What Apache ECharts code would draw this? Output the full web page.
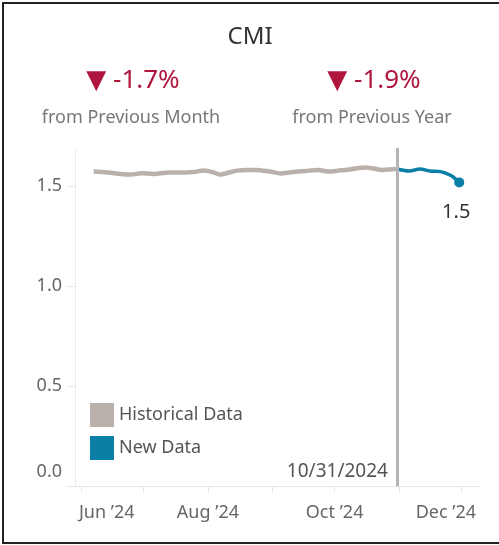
<!DOCTYPE html>
<html>
<head>
<meta charset="utf-8">
<title>CMI</title>
<script src="https://cdn.jsdelivr.net/npm/echarts@6/dist/echarts.min.js"></script>
<style>
  html, body { margin: 0; padding: 0; background: #fff; }
  #frame {
    position: absolute; left: 2px; top: 2px; width: 520px; height: 542px;
    box-sizing: border-box; border: 2px solid #222;
  }
  #chart { position: absolute; left: 0; top: 0; width: 499px; height: 545px; }
</style>
</head>
<body>
<div id="frame"></div>
<div id="chart"></div>
<script>
// historical CMI (gray line)
const histDates = ['2024-06-07', '2024-06-14', '2024-06-20', '2024-06-25', '2024-06-30',
  '2024-07-06', '2024-07-13', '2024-07-18', '2024-07-25', '2024-07-30',
  '2024-08-04', '2024-08-07', '2024-08-10', '2024-08-15', '2024-08-20',
  '2024-08-24', '2024-08-31', '2024-09-05', '2024-09-10', '2024-09-17',
  '2024-09-23', '2024-09-28', '2024-10-03', '2024-10-09', '2024-10-16',
  '2024-10-19', '2024-10-24', '2024-10-29', '2024-10-31']
const histValues = [1.572, 1.567, 1.560, 1.557, 1.564,
  1.560, 1.567, 1.567, 1.570, 1.577,
  1.567, 1.557, 1.564, 1.577, 1.580,
  1.580, 1.572, 1.563, 1.569, 1.575,
  1.580, 1.572, 1.577, 1.584, 1.592,
  1.589, 1.580, 1.584, 1.585]

// new data (blue line)
const newDates = ['2024-10-31', '2024-11-06', '2024-11-11', '2024-11-16', '2024-11-21', '2024-11-26', '2024-11-30']
const newValues = [1.585, 1.575, 1.585, 1.575, 1.572, 1.552, 1.518]

const cutoffDate = '2024-10-31'
const yTicks = [0, 0.5, 1.0, 1.5]
const kpis = [
  { value: '▼ -1.7%', label: 'from Previous Month' },
  { value: '▼ -1.9%', label: 'from Previous Year' }
]

const font = '"Noto Sans", "DejaVu Sans", sans-serif'
const monthNames = ['Jan', 'Feb', 'Mar', 'Apr', 'May', 'Jun', 'Jul', 'Aug', 'Sep', 'Oct', 'Nov', 'Dec']

const chart = echarts.init(document.getElementById('chart'))

const lastIdx = newValues.length - 1
const newSeriesData = newValues.map((v, i) => {
  if (i !== lastIdx) return [newDates[i], v]
  return {
    value: [newDates[i], v],
    label: {
      show: true,
      position: 'bottom',
      distance: 15,
      offset: [-3, 0],
      color: '#333',
      fontSize: 20,
      fontFamily: font,
      formatter: (p) => p.value[1].toFixed(1)
    }
  }
})

const option = {
  animation: false,
  graphic: [
    { type: 'text', x: 250, y: 37, style: { text: 'CMI', fill: '#333', font: '24px ' + font, textAlign: 'center', textVerticalAlign: 'middle' } },
    { type: 'text', x: 133, y: 81, style: { text: kpis[0].value, fill: '#b0163d', font: '26px ' + font, textAlign: 'center', textVerticalAlign: 'middle' } },
    { type: 'text', x: 131, y: 118, style: { text: kpis[0].label, fill: '#777', font: '18px ' + font, textAlign: 'center', textVerticalAlign: 'middle' } },
    { type: 'text', x: 374, y: 81, style: { text: kpis[1].value, fill: '#b0163d', font: '26px ' + font, textAlign: 'center', textVerticalAlign: 'middle' } },
    { type: 'text', x: 372, y: 118, style: { text: kpis[1].label, fill: '#777', font: '18px ' + font, textAlign: 'center', textVerticalAlign: 'middle' } }
  ],
  legend: {
    orient: 'vertical',
    left: 85,
    top: 398,
    icon: 'rect',
    itemWidth: 24,
    itemHeight: 24,
    itemGap: 9,
    textStyle: { color: '#555', fontSize: 18, fontFamily: font },
    data: ['Historical Data', 'New Data']
  },
  grid: { left: 75, right: 19, top: 148, bottom: 59 },
  xAxis: {
    type: 'time',
    min: '2024-05-29',
    max: '2024-12-10',
    minInterval: 28 * 86400000,
    maxInterval: 31 * 86400000,
    axisLine: { lineStyle: { color: '#e6e6e6' } },
    axisTick: { show: true, length: 6, lineStyle: { color: '#e6e6e6' } },
    splitLine: { show: false },
    axisLabel: {
      margin: 18,
      color: '#666',
      fontSize: 18,
      fontFamily: font,
      formatter: function (value) {
        const d = new Date(value)
        const m = d.getMonth()
        if (m % 2 !== 1) return ''
        const txt = monthNames[m] + ' ’' + String(d.getFullYear()).slice(2)
        if (m === 5) return '{l|' + txt + '}'
        if (m === 11) return '{r|' + txt + '}'
        return txt
      },
      rich: {
        l: { padding: [0, 0, 0, 51], color: '#666', fontSize: 18, fontFamily: font },
        r: { padding: [0, 31, 0, 0], color: '#666', fontSize: 18, fontFamily: font }
      }
    }
  },
  yAxis: {
    type: 'value',
    min: yTicks[0],
    max: 1.69,
    interval: 0.5,
    axisLine: { show: true, lineStyle: { color: '#ececec' } },
    axisTick: { show: true, length: 8, customValues: yTicks, lineStyle: { color: '#e6e6e6' } },
    splitLine: { show: false },
    axisLabel: {
      margin: 13,
      customValues: yTicks,
      color: '#666',
      fontSize: 18,
      fontFamily: font,
      formatter: (v) => (v === 0 ? '{z|' + v.toFixed(1) + '}' : v.toFixed(1)),
      rich: {
        z: { padding: [0, 0, 28, 0], color: '#666', fontSize: 18, fontFamily: font }
      }
    }
  },
  series: [
    {
      name: 'Historical Data',
      type: 'line',
      data: histDates.map((d, i) => [d, histValues[i]]),
      color: '#bab0ac',
      showSymbol: false,
      smooth: 0.3,
      lineStyle: { width: 4.5, color: '#bab0ac' },
      emphasis: { disabled: true },
      z: 3,
      markLine: {
        silent: true,
        symbol: ['none', 'none'],
        label: { show: false },
        lineStyle: { color: '#b4b4b4', width: 3, type: 'solid' },
        data: [{ xAxis: cutoffDate }]
      },
      markPoint: {
        silent: true,
        symbol: 'circle',
        symbolSize: 0,
        label: {
          show: true,
          position: 'left',
          distance: 9,
          offset: [0, -14],
          color: '#555',
          fontSize: 19,
          fontFamily: font,
          formatter: () => {
            const p = cutoffDate.split('-')
            return p[1] + '/' + p[2] + '/' + p[0]
          }
        },
        data: [{ coord: [cutoffDate, 0] }]
      }
    },
    {
      name: 'New Data',
      type: 'line',
      data: newSeriesData,
      color: '#0b7fa6',
      showSymbol: true,
      symbol: (v, p) => (p.dataIndex === lastIdx ? 'circle' : 'none'),
      symbolSize: 10,
      itemStyle: { color: '#0b7fa6' },
      smooth: 0.3,
      lineStyle: { width: 3.5, color: '#0b7fa6' },
      emphasis: { disabled: true },
      z: 4
    }
  ]
}

chart.setOption(option)
</script>
</body>
</html>
